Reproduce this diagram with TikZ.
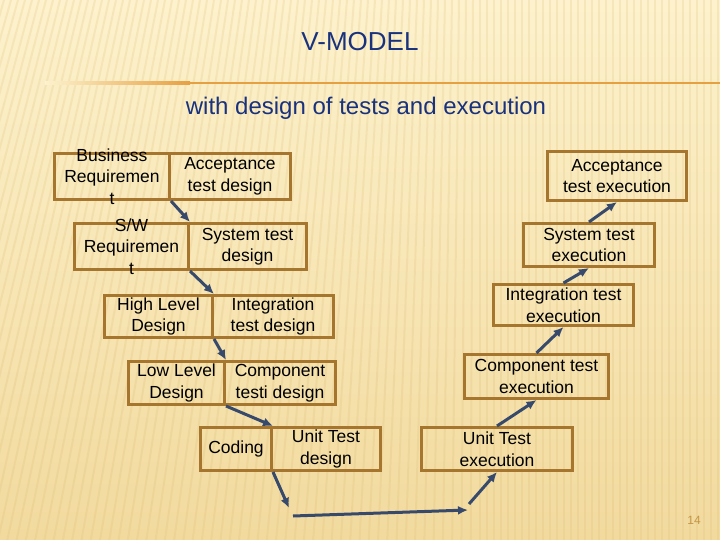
\documentclass[tikz,border=0pt]{standalone}
\usepackage{fontspec}
\setmainfont{Liberation Sans}
\usetikzlibrary{arrows.meta}

\definecolor{bgtop}{RGB}{253,242,205}
\definecolor{bgbot}{RGB}{242,218,158}
\definecolor{stripec}{RGB}{215,180,105}
\definecolor{boxbrown}{RGB}{166,118,46}
\definecolor{arrowblue}{RGB}{55,74,108}
\definecolor{titleblue}{RGB}{25,50,125}
\definecolor{rulecol}{RGB}{230,160,65}
\definecolor{pagecol}{RGB}{196,150,70}

\tikzset{
  vbox/.style={draw=boxbrown, line width=3pt, inner sep=0pt, anchor=north west},
  vtext/.style={align=center, font=\fontsize{17.5}{21.5}\selectfont},
  stripe/.style={stripec, line width=2pt, opacity=0.18},
}

\begin{document}
\begin{tikzpicture}[x=1pt,y=-1pt]
    \useasboundingbox (0,0) rectangle (720,540);
    \fill[top color=bgtop, bottom color=bgbot] (0,0) rectangle (720,540);
    \begin{scope}
       \clip (0,0) rectangle (720,540);
       \foreach \x in {-220,-213,...,720} {
          \pgfmathsetmacro\s{max(0,0.42*(1-(\x+220)/700))}
          \draw[stripe] (\x,0) -- ({\x-\s*540},540);
       }
    \end{scope}
    \fill[left color=bgtop, right color=rulecol] (45,82) rectangle (190,84.5);
    \fill[rulecol] (190,82) rectangle (720,84.5);

    \node[font=\fontsize{26}{30}\selectfont, text=titleblue] (title) at (360,42) {V-MODEL};
    \node[font=\fontsize{24}{28}\selectfont, text=titleblue] (sub) at (366,108) {with design of tests and execution};
    \node[font=\fontsize{12}{14}\selectfont, text=pagecol] (pg) at (694,520) {14};

    % design side
    \node[vbox, minimum width=115, minimum height=46, label={[vtext]center:Business\\Requiremen\\t}] (brq) at (53,152) {};
    \node[vbox, minimum width=121, minimum height=46, label={[vtext]center:Acceptance\\test design}] (atd) at (168,152) {};
    \node[vbox, minimum width=114, minimum height=46, label={[vtext]center:S/W\\Requiremen\\t}] (swr) at (73,222) {};
    \node[vbox, minimum width=118, minimum height=46, label={[vtext]center:System test\\design}] (std) at (187,222) {};
    \node[vbox, minimum width=108, minimum height=42, label={[vtext]center:High Level\\Design}] (hld) at (103,294) {};
    \node[vbox, minimum width=121, minimum height=42, label={[vtext]center:Integration\\test design}] (itd) at (211,294) {};
    \node[vbox, minimum width=96, minimum height=43, label={[vtext]center:Low Level\\Design}] (lld) at (127,360) {};
    \node[vbox, minimum width=111, minimum height=43, label={[vtext]center:Component\\testi design}] (ctd) at (223,360) {};
    \node[vbox, minimum width=71, minimum height=43, label={[vtext]center:Coding}] (cod) at (199,426) {};
    \node[vbox, minimum width=109, minimum height=43, label={[vtext]center:Unit Test\\design}] (utd) at (270,426) {};

    % execution side
    \node[vbox, minimum width=151, minimum height=43, label={[vtext]center:Unit Test\\execution}] (ute) at (420,426) {};
    \node[vbox, minimum width=144, minimum height=44, label={[vtext]center:Component test\\execution}] (cte) at (463,353) {};
    \node[vbox, minimum width=140, minimum height=41, label={[vtext]center:Integration test\\execution}] (ite) at (492,283) {};
    \node[vbox, minimum width=131, minimum height=43, label={[vtext]center:System test\\execution}] (ste) at (522,222) {};
    \node[vbox, minimum width=139, minimum height=49, label={[vtext]center:Acceptance\\test execution}] (ate) at (546,150) {};

    \coordinate (dn) at (289,508);
    \coordinate (h1) at (293,516);
    \coordinate (h2) at (468,510);
    \coordinate (up) at (469,504);

    \begin{scope}[every path/.style={draw=arrowblue, line width=3pt, -{Latex[length=10pt,width=9pt]}}]
       \draw (brq.south east) -- (swr.north east);
       \draw (swr.south east) -- (hld.north east);
       \draw (hld.south east) -- (lld.north east);
       \draw (lld.south east) -- (cod.north east);
       \draw (cod.south east) -- (dn);
       \draw (h1) -- (h2);
       \draw (up) -- (ute.south);
       \draw (ute.north) -- (cte.south);
       \draw (cte.north) -- (ite.south);
       \draw (ite.north) -- (ste.south);
       \draw (ste.north) -- (ate.south);
    \end{scope}

\end{tikzpicture}
\end{document}
